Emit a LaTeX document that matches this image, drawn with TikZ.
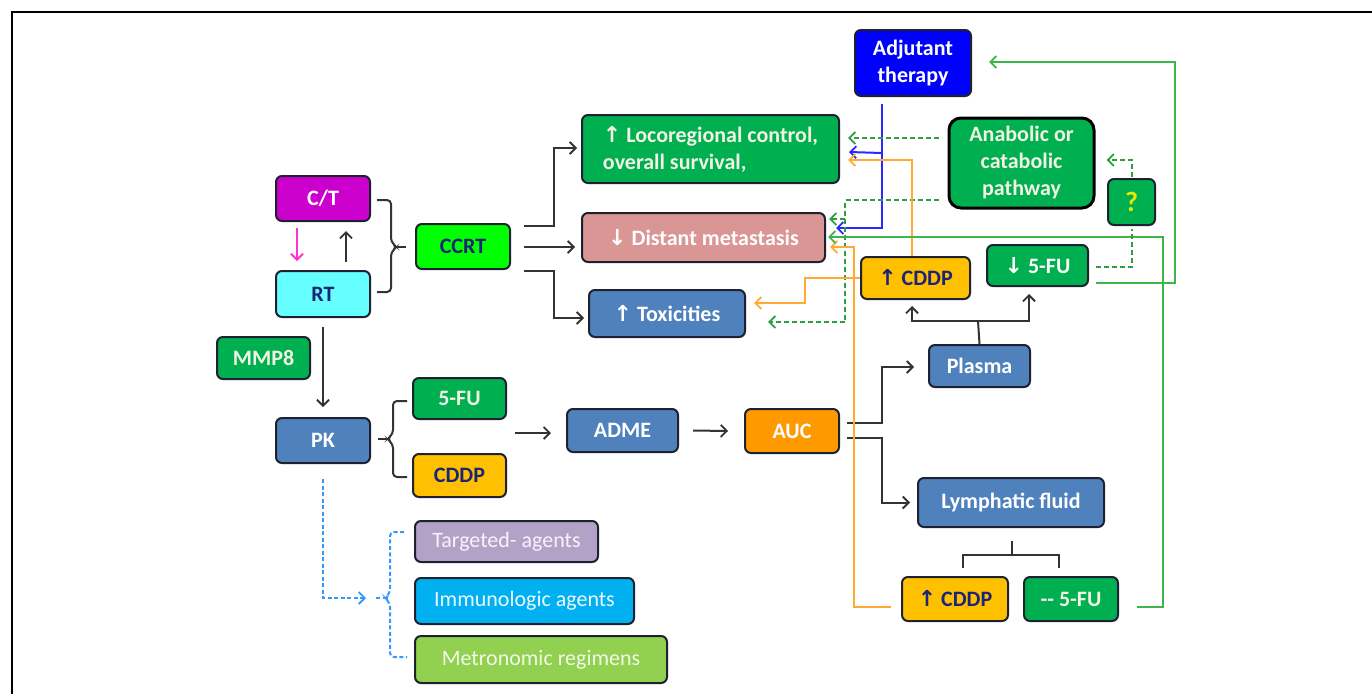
\documentclass[tikz,border=0pt]{standalone}
\usepackage{fontspec}
\setmainfont{Carlito}
\newfontfamily\arrf{DejaVu Sans}
\usetikzlibrary{arrows.meta,calc}
\definecolor{cMag}{HTML}{CC00CC}
\definecolor{cCyan}{HTML}{66FFFF}
\definecolor{cLime}{HTML}{00FF00}
\definecolor{cGreen}{HTML}{00B050}
\definecolor{cPink}{HTML}{D99694}
\definecolor{cBlue}{HTML}{4F81BD}
\definecolor{cRoyal}{HTML}{0000FF}
\definecolor{cGold}{HTML}{FFC000}
\definecolor{cOrange}{HTML}{FF9900}
\definecolor{cLav}{HTML}{B3A2C7}
\definecolor{cSky}{HTML}{00B0F0}
\definecolor{cYG}{HTML}{92D050}
\definecolor{cNavy}{HTML}{1C2475}
\definecolor{cCream}{HTML}{F2F2E4}
\definecolor{cBorder}{HTML}{1E2230}
\definecolor{cQ}{HTML}{E8E800}
\definecolor{lOrange}{HTML}{FFAA33}
\definecolor{lGreen}{HTML}{3DB54A}
\definecolor{lDGreen}{HTML}{2E9E3E}
\definecolor{lBlue}{HTML}{2828FF}
\definecolor{lLBlue}{HTML}{3399FF}
\definecolor{lPink}{HTML}{FF33CC}
\newcommand\myup{{\arrf ↑}}
\newcommand\mydn{{\arrf ↓}}
\newcommand\bxfont{\fontsize{22}{27}\selectfont\bfseries}
\newcommand\rgfont{\fontsize{22}{27}\selectfont}
\tikzset{
  box/.style={rounded corners=6pt, draw=cBorder, line width=2pt, inner sep=0pt,
    font=\bxfont, text=white, align=center},
  tip/.style={-{Straight Barb[length=6pt,width=12pt,line width=1.8pt]}},
  conn/.style={draw=black!80, line width=2pt},
  bluel/.style={draw=lBlue, line width=2pt},
  orl/.style={draw=lOrange, line width=2pt},
  grl/.style={draw=lGreen, line width=2pt},
  gdash/.style={draw=lDGreen, line width=2pt, dash pattern=on 5pt off 3pt},
  ldash/.style={draw=lLBlue, line width=2pt, dash pattern=on 4pt off 2.5pt},
}
\begin{document}
\begin{tikzpicture}[x=1pt,y=-1pt]
\useasboundingbox (0,0) rectangle (1372,694);
% frame
\draw[line width=2.5pt] (12,694) -- (12,12) -- (1372,12);

% nodes
\node[box, fill=cMag, text=white, minimum width=94pt, minimum height=45pt] (ct) at (323,198.5) {C/T};
\node[box, fill=cCyan, text=cNavy, minimum width=94pt, minimum height=46pt] (rt) at (323,294) {RT};
\node[box, fill=cLime, text=cNavy, minimum width=94pt, minimum height=45pt] (ccrt) at (463,246.5) {CCRT};
\node[box, fill=cGreen, text=cCream, align=left, minimum width=257pt, minimum height=68pt] (loco) at (710.5,149) {\myup\ Locoregional control,\\overall survival,};
\node[box, fill=cPink, minimum width=243pt, minimum height=49pt] (dist) at (703.5,237.5) {\mydn\ Distant metastasis};
\node[box, fill=cBlue, minimum width=156pt, minimum height=47pt] (tox) at (667,313.5) {\myup\ Toxicities};
\node[box, fill=cRoyal, minimum width=116pt, minimum height=66pt] (adj) at (913,63) {Adjutant\\therapy};
\node[box, fill=cGreen, draw=black, line width=3pt, rounded corners=12pt, text=cCream, minimum width=145pt, minimum height=90pt] (ana) at (1021.5,163) {Anabolic or\\catabolic\\pathway};
\node[box, fill=cGreen, text=cQ, font=\fontsize{28}{30}\selectfont\bfseries, minimum width=47pt, minimum height=46pt] (q) at (1131.5,202) {?};
\node[box, fill=cGold, text=cNavy, minimum width=109pt, minimum height=42pt] (cddpu) at (915.5,278) {\myup\ CDDP};
\node[box, fill=cGreen, minimum width=101pt, minimum height=41pt] (fuu) at (1037.5,265.5) {\mydn\ 5-FU};
\node[box, fill=cBlue, minimum width=101pt, minimum height=42pt] (plasma) at (979.5,366) {Plasma};
\node[box, fill=cGreen, text=cCream, minimum width=93pt, minimum height=42pt] (mmp) at (263.5,358) {MMP8};
\node[box, fill=cBlue, minimum width=94pt, minimum height=45pt] (pk) at (323,440.5) {PK};
\node[box, fill=cGreen, text=cCream, minimum width=93pt, minimum height=41pt] (fu) at (459.5,398.5) {5-FU};
\node[box, fill=cGold, text=cNavy, minimum width=93pt, minimum height=43pt] (cddp) at (459.5,475.5) {CDDP};
\node[box, fill=cBlue, minimum width=111pt, minimum height=43pt] (adme) at (622.5,430.5) {ADME};
\node[box, fill=cOrange, minimum width=94pt, minimum height=44pt] (auc) at (792,431) {AUC};
\node[box, fill=cBlue, minimum width=186pt, minimum height=49pt] (lymph) at (1011,502.5) {Lymphatic fluid};
\node[box, fill=cGold, text=cNavy, minimum width=106pt, minimum height=44pt] (cddpl) at (955,599) {\myup\ CDDP};
\node[box, fill=cGreen, text=cCream, minimum width=94pt, minimum height=44pt] (ful) at (1071,599) {{-}{-} 5-FU};
\node[box, fill=cLav, text=white!88!cLav, font=\rgfont, minimum width=183pt, minimum height=41pt] (targ) at (506.5,541.5) {Targeted- agents};
\node[box, fill=cSky, text=white!92!cSky, font=\rgfont, minimum width=219pt, minimum height=46pt] (immu) at (524.5,601) {Immunologic agents};
\node[box, fill=cYG, text=white!88!cYG, font=\rgfont, minimum width=252pt, minimum height=47pt] (metro) at (541,659.5) {Metronomic regimens};

% C/T <-> RT
\draw[draw=lPink, line width=2pt, tip] ($(ct.south)+(-26,6)$) -- ($(rt.north)+(-26,-9)$);
\draw[conn, tip] ($(rt.north)+(23,-8)$) -- ($(ct.south)+(23,9)$);

% brace to CCRT
\draw[conn, rounded corners=4pt] ($(ct.east)+(6,1.5)$) -- (391,200) -- (391,242) -- (397,247) -- (391,252) -- (391,292) -- ($(rt.east)+(6,-2)$);
\draw[conn] (396,247) -- ($(ccrt.west)+(-9,0.5)$);

% CCRT outputs
\draw[conn, tip] ($(ccrt.east)+(13,-20.5)$) -- ++(30,0) |- ($(loco.west)+(-4,-1)$);
\draw[conn, tip] ($(ccrt.east)+(13,0.5)$) -- ($(dist.west)+(-6,9.5)$);
\draw[conn, tip] ($(ccrt.east)+(13,24)$) -- ++(30,0) |- ($(tox.west)+(-4,4.5)$);

% RT -> PK
\draw[conn, tip] ($(rt.south)+(0,9)$) -- ($(pk.north)+(0,-10)$);

% PK brace
\draw[conn, rounded corners=4pt] ($(fu.west)+(-5,2.5)$) -- (393,401) -- (393,434) -- (387,439) -- (393,444) -- (393,477) -- ($(cddp.west)+(-5,1.5)$);
\draw[conn] ($(pk.east)+(7,-1.5)$) -- (388,439);

% -> ADME -> AUC
\draw[conn, tip] ($(adme.west)+(-51,2.5)$) -- ($(adme.west)+(-15,2.5)$);
\draw[conn, tip] ($(adme.east)+(14,0)$) -- ($(auc.west)+(-16,0)$);

% AUC -> Plasma / Lymph
\draw[conn, tip] ($(auc.east)+(7,-8)$) -- ++(35,0) |- ($(plasma.west)+(-14,1)$);
\draw[conn, tip] ($(auc.east)+(7,7)$) -- ++(35,0) |- ($(lymph.west)+(-7,0)$);

% Plasma -> CDDP / 5-FU
\coordinate (pj) at ($(plasma.north)+(-1.5,-23)$);
\draw[conn] (plasma.north) -- (pj);
\draw[conn, tip] (pj) -| ($(cddpu.south)+(-3.5,6)$);
\draw[conn, tip] (pj) -| ($(fuu.south)+(-8.5,7)$);

% Lymph -> lower boxes
\coordinate (lj) at ($(lymph.south)+(1,27)$);
\draw[conn] ($(lymph.south)+(1,13)$) -- (lj);
\draw[conn] ($(cddpl.north)+(8,-8)$) |- (lj) -| ($(ful.north)+(-12,-8)$);

% Adjutant blue
\draw[bluel, tip] ($(adj.south)+(-31,7)$) |- ($(dist.east)+(10,-9.5)$);
\draw[bluel, tip] ($(adj.south)+(-31,56)$) -- ($(loco.east)+(9,3)$);

% green dashed from anabolic
\draw[gdash, tip] ($(ana.west)+(-9,-25)$) -- ($(loco.east)+(8,-11)$);
\coordinate (gv) at (845,200);
\draw[gdash, tip] ($(ana.west)+(-9,37)$) -- (gv) |- ($(tox.east)+(22,8.5)$);
\draw[gdash, tip] (845,219) -- ($(dist.east)+(3,-18.5)$);

% orange
\draw[orl, tip] ($(cddpu.north)+(-3.5,0)$) |- ($(loco.east)+(8,11)$);
\draw[orl, tip] (cddpu.west) -- (805,278) |- ($(tox.east)+(8,-10.5)$);
\draw[orl, tip] ($(cddpl.west)+(-10,8)$) -- (854,607) -- (854,247) -- ($(dist.east)+(4,9.5)$);

% green solid
\draw[grl, tip] ($(ful.east)+(18,8)$) -- (1163,607) -- (1163,237) -- ($(dist.east)+(2,-0.5)$);
\draw[grl, tip] ($(fuu.east)+(7,17.5)$) -- (1175,283) -- (1175,62) -- ($(adj.east)+(17,-1)$);

% 5-FU -> ? -> anabolic
\draw[gdash] ($(fuu.east)+(7,1.5)$) -| ($(q.south)+(0.5,3)$);
\draw[gdash, tip] ($(q.north)+(0.5,-1)$) |- ($(ana.east)+(11,-3)$);

% PK dashed to agents
\draw[ldash, tip] ($(pk.south)+(0,15)$) |- ($(immu.west)+(-48,-3)$);
\draw[ldash, rounded corners=4pt] ($(targ.west)+(-10,-9.5)$) -- (390,532) -- (390,593) -- (385,598) -- (390,603) -- (390,657) -- ($(metro.west)+(-7,-2.5)$);
\draw[ldash] ($(immu.west)+(-38,-3)$) -- (385,598);
\end{tikzpicture}
\end{document}
